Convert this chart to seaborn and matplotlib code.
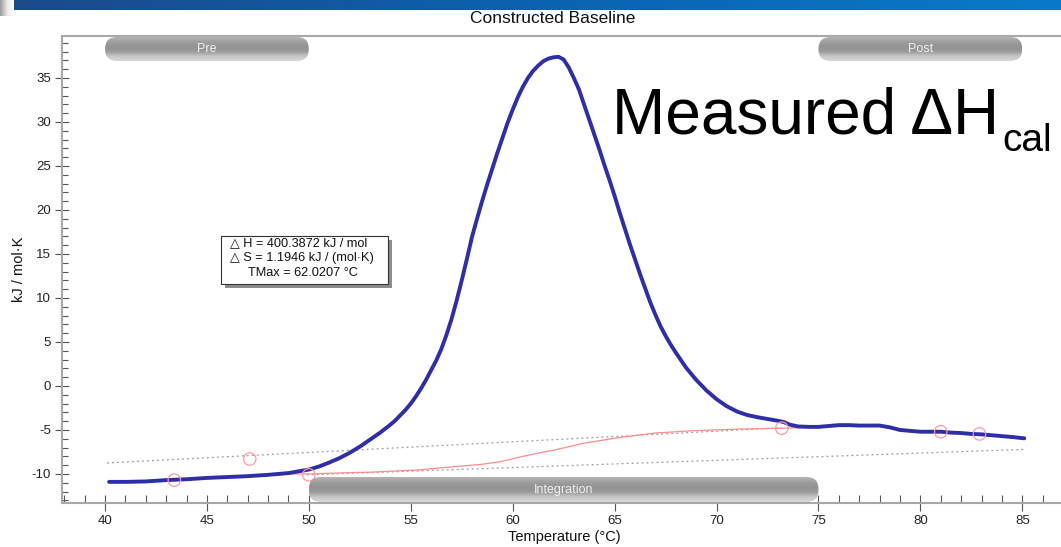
import numpy as np
import pandas as pd
import matplotlib
matplotlib.use("Agg")
import matplotlib.pyplot as plt
import seaborn as sns
from matplotlib.patches import FancyBboxPatch, Rectangle
from matplotlib.transforms import IdentityTransform
from matplotlib.ticker import MultipleLocator
from matplotlib.colors import LinearSegmentedColormap

# ---------------- data ----------------
temperature = [40.2, 41, 42, 43, 44, 45, 46, 47, 48, 49, 50, 50.5, 51, 51.5, 52, 52.5,
               53, 53.5, 54, 54.25, 54.5, 54.75, 55, 55.25, 55.5, 55.75, 56, 56.25,
               56.5, 56.75, 57, 57.25, 57.5, 57.75, 58, 58.25, 58.5, 58.75, 59, 59.25,
               59.5, 59.75, 60, 60.25, 60.5, 60.75, 61, 61.25, 61.5, 61.75, 62, 62.25,
               62.5, 62.75, 63, 63.25, 63.5, 63.75, 64, 64.25, 64.5, 64.75, 65, 65.25,
               65.5, 65.75, 66, 66.25, 66.5, 66.75, 67, 67.25, 67.5, 67.75, 68, 68.5,
               69, 69.5, 70, 70.5, 71, 71.5, 72, 72.5, 73, 73.3, 73.6, 74, 74.5, 75,
               75.5, 76, 76.5, 77, 77.5, 78, 78.5, 79, 79.5, 80, 80.5, 81, 81.5, 82,
               82.5, 83, 83.5, 84, 84.5, 85.1]
heat_capacity = [-10.9, -10.9, -10.85, -10.7, -10.6, -10.45, -10.35, -10.25, -10.1, -9.9,
                 -9.5, -9.15, -8.7, -8.2, -7.6, -6.9, -6.1, -5.3, -4.4, -3.9, -3.3, -2.7,
                 -2.0, -1.2, -0.3, 0.7, 1.8, 2.9, 4.2, 5.8, 7.6, 9.7, 12.0, 14.4, 16.9,
                 19.0, 21.0, 22.9, 24.7, 26.5, 28.2, 29.9, 31.4, 32.8, 34.0, 35.0, 35.8,
                 36.4, 36.9, 37.2, 37.35, 37.4, 37.1, 36.2, 35.0, 33.7, 32.0, 30.3, 28.6,
                 26.9, 25.1, 23.4, 21.6, 19.7, 17.9, 16.1, 14.4, 12.7, 11.1, 9.5, 8.1,
                 6.8, 5.7, 4.7, 3.8, 2.1, 0.7, -0.5, -1.5, -2.3, -2.9, -3.3, -3.55,
                 -3.75, -3.95, -4.1, -4.4, -4.6, -4.65, -4.65, -4.55, -4.45, -4.45, -4.5,
                 -4.5, -4.5, -4.7, -5.0, -5.1, -5.2, -5.2, -5.2, -5.3, -5.35, -5.45, -5.5,
                 -5.6, -5.7, -5.8, -5.95]

baseline_t = [43.4, 45, 47, 49, 50, 52, 53, 55.3, 57, 58.5, 59.4, 60.5, 61.3, 62, 63.5,
              65.4, 67, 68.7, 71, 73.2, 74, 76, 78, 79, 80, 81, 83]
baseline_cp = [-10.75, -10.5, -10.3, -10.0, -10.0, -9.85, -9.8, -9.55, -9.2, -8.9, -8.6,
               -8.0, -7.6, -7.3, -6.5, -5.8, -5.35, -5.1, -4.9, -4.8, -4.75, -4.6, -4.6,
               -5.05, -5.2, -5.25, -5.5]

anchor_t = [43.4, 47.1, 50.0, 73.2, 81.0, 82.9]
anchor_cp = [-10.7, -8.3, -10.1, -4.8, -5.2, -5.45]

pre_fit_t = [40.1, 73.2]
pre_fit_cp = [-8.75, -4.75]
post_fit_t = [49.9, 85.2]
post_fit_cp = [-10.1, -7.2]

region_names = ["Pre", "Integration", "Post"]
region_start = [40, 50, 75]
region_end = [50, 75, 85]
region_side = ["top", "bottom", "top"]

x_ticks = [40, 45, 50, 55, 60, 65, 70, 75, 80, 85]
y_ticks = [-10, -5, 0, 5, 10, 15, 20, 25, 30, 35]

stats_lines = ["\u25b3 H = 400.3872 kJ / mol",
               "\u25b3 S = 1.1946 kJ / (mol\u00b7K)",
               "TMax = 62.0207 \u00b0C"]

title = "Constructed Baseline"
x_label = "Temperature (\u00b0C)"
y_label = "kJ / mol\u00b7K"

# ---------------- figure ----------------
sns.set_style("ticks")
plt.rcParams["font.family"] = ["Liberation Sans", "DejaVu Sans"]
plt.rcParams["axes.unicode_minus"] = False

W, H = 1061, 547
fig = plt.figure(figsize=(W / 100, H / 100), dpi=100)
ax = fig.add_axes([62 / W, 44 / H, 1 - 62 / W, 467 / H])

curve = pd.DataFrame({"T": temperature, "Cp": heat_capacity})
base = pd.DataFrame({"T": baseline_t, "Cp": baseline_cp})
anchors = pd.DataFrame({"T": anchor_t, "Cp": anchor_cp})

sns.lineplot(x=pre_fit_t, y=pre_fit_cp, ax=ax, color="#9a9a9a", lw=0.9,
             linestyle=(0, (1.5, 2.5)), zorder=3)
sns.lineplot(x=post_fit_t, y=post_fit_cp, ax=ax, color="#9a9a9a", lw=0.9,
             linestyle=(0, (1.5, 2.5)), zorder=3)
sns.lineplot(data=base, x="T", y="Cp", ax=ax, color="#ff8c8c", lw=0.9, sort=False, zorder=4)
sns.lineplot(data=curve, x="T", y="Cp", ax=ax, color="#2e2ea8", lw=2.8, sort=False, zorder=5)
ax.lines[-1].set_solid_joinstyle("round")
ax.lines[-1].set_solid_capstyle("round")
sns.scatterplot(data=anchors, x="T", y="Cp", ax=ax, s=80, facecolor="none",
                edgecolor="#ff9a9a", linewidth=0.9, zorder=6)

xlim = (37.89, 86.9)
ylim = (-13.3, 39.77)
ax.set_xlim(*xlim)
ax.set_ylim(*ylim)

ax.set_xticks(x_ticks)
ax.set_yticks(y_ticks)
ax.xaxis.set_minor_locator(MultipleLocator(1))
ax.yaxis.set_minor_locator(MultipleLocator(1))
ax.tick_params(axis="x", which="major", direction="inout", length=12, width=0.8,
               color="#555555", labelsize=9.5, labelcolor="#222222", pad=3)
ax.tick_params(axis="y", which="major", direction="inout", length=9.5, width=0.8,
               color="#555555", labelsize=9.5, labelcolor="#222222", pad=3)
ax.tick_params(axis="x", which="minor", direction="in", length=5.5, width=0.8, color="#555555")
ax.tick_params(axis="y", which="minor", direction="in", length=4, width=0.8, color="#555555")

for side in ["left", "bottom", "top"]:
    ax.spines[side].set_color("#a8a8a8")
    ax.spines[side].set_linewidth(1.5)
ax.spines["right"].set_visible(False)

ax.set_xlabel(x_label, fontsize=10.5, color="#111111")
ax.set_ylabel(y_label, fontsize=10.5, color="#111111")
ax.xaxis.set_label_coords(0.503, -0.058)
ax.yaxis.set_label_coords(-0.036, 0.5)

# ---------------- region pills ----------------
pill_cmap = LinearSegmentedColormap.from_list(
    "pill", ["#d8d8d8", "#c6c6c6", "#9a9a9a", "#939393", "#9e9e9e", "#b4b4b4"])
bbox = ax.get_window_extent()
for name, x0, x1, side in zip(region_names, region_start, region_end, region_side):
    px0 = ax.transData.transform((x0, 0))[0]
    px1 = ax.transData.transform((x1, 0))[0]
    if side == "top":
        py0, ph = bbox.y1 - 25, 24
    else:
        py0, ph = bbox.y0 + 1, 25
    pill = FancyBboxPatch((px0, py0), px1 - px0, ph,
                          boxstyle="round,pad=0,rounding_size=12",
                          transform=IdentityTransform(), facecolor="none",
                          edgecolor="none", zorder=7)
    ax.add_artist(pill)
    inv = ax.transData.inverted()
    (dx0, dy0) = inv.transform((px0, py0))
    (dx1, dy1) = inv.transform((px1, py0 + ph))
    grad = np.linspace(0, 1, 64).reshape(-1, 1)
    im = ax.imshow(grad, cmap=pill_cmap, aspect="auto", origin="lower",
                   extent=(dx0, dx1, dy0, dy1), zorder=7, interpolation="bilinear")
    im.set_clip_path(pill)
    ax.text((x0 + x1) / 2, (dy0 + dy1) / 2, name, ha="center", va="center",
            fontsize=9, color="#f0f0f0", zorder=8)
ax.set_xlim(*xlim)
ax.set_ylim(*ylim)

# ---------------- info box ----------------
bx0, bx1 = (221 - 62) / 999, (388 - 62) / 999
by1, by0 = (547 - 236 - 44) / 467, (547 - 284 - 44) / 467
ax.add_patch(Rectangle((bx0 + 4 / 999, by0 - 4 / 467), bx1 - bx0, by1 - by0,
                       transform=ax.transAxes, facecolor="#8c8c8c", edgecolor="none", zorder=8))
ax.add_patch(Rectangle((bx0, by0), bx1 - bx0, by1 - by0, transform=ax.transAxes,
                       facecolor="white", edgecolor="#333333", lw=0.8, zorder=9))
line_y = [(547 - 243 - 44) / 467, (547 - 258 - 44) / 467, (547 - 273 - 44) / 467]
line_x = [(230 - 62) / 999, (230 - 62) / 999, (248 - 62) / 999]
for txt, tx, ty in zip(stats_lines, line_x, line_y):
    ax.text(tx, ty, txt, transform=ax.transAxes, fontsize=9.2, color="#111111",
            va="center", ha="left", zorder=10)

# ---------------- annotations ----------------
fig.text(553 / W, 1 - 18.5 / H, title, ha="center", va="center", fontsize=12.5, color="#111111")
big = fig.text(612 / W, 1 - 134 / H, "Measured \u0394H", ha="left", va="baseline",
               fontsize=46, color="black")
renderer = fig.canvas.get_renderer()
big_end = big.get_window_extent(renderer).x1
fig.text((big_end + 3) / W, 1 - 151 / H, "cal", ha="left", va="baseline",
         fontsize=28, color="black")

# ---------------- top banner ----------------
banner = fig.add_axes([0, 1 - 10 / H, 1, 10 / H])
banner_cmap = LinearSegmentedColormap.from_list("banner", ["#1c4a88", "#0b62b0", "#0a7ac8"])
banner.imshow(np.linspace(0, 1, 256).reshape(1, -1), cmap=banner_cmap, aspect="auto")
banner.axis("off")
corner = fig.add_axes([0, 1 - 16 / H, 14 / W, 16 / H])
corner_cmap = LinearSegmentedColormap.from_list("corner", ["#9a9a9a", "#e8e8e8", "#ffffff"])
corner.imshow(np.linspace(0, 1, 32).reshape(1, -1), cmap=corner_cmap, aspect="auto")
corner.axis("off")

fig.savefig("out.png", dpi=100)
